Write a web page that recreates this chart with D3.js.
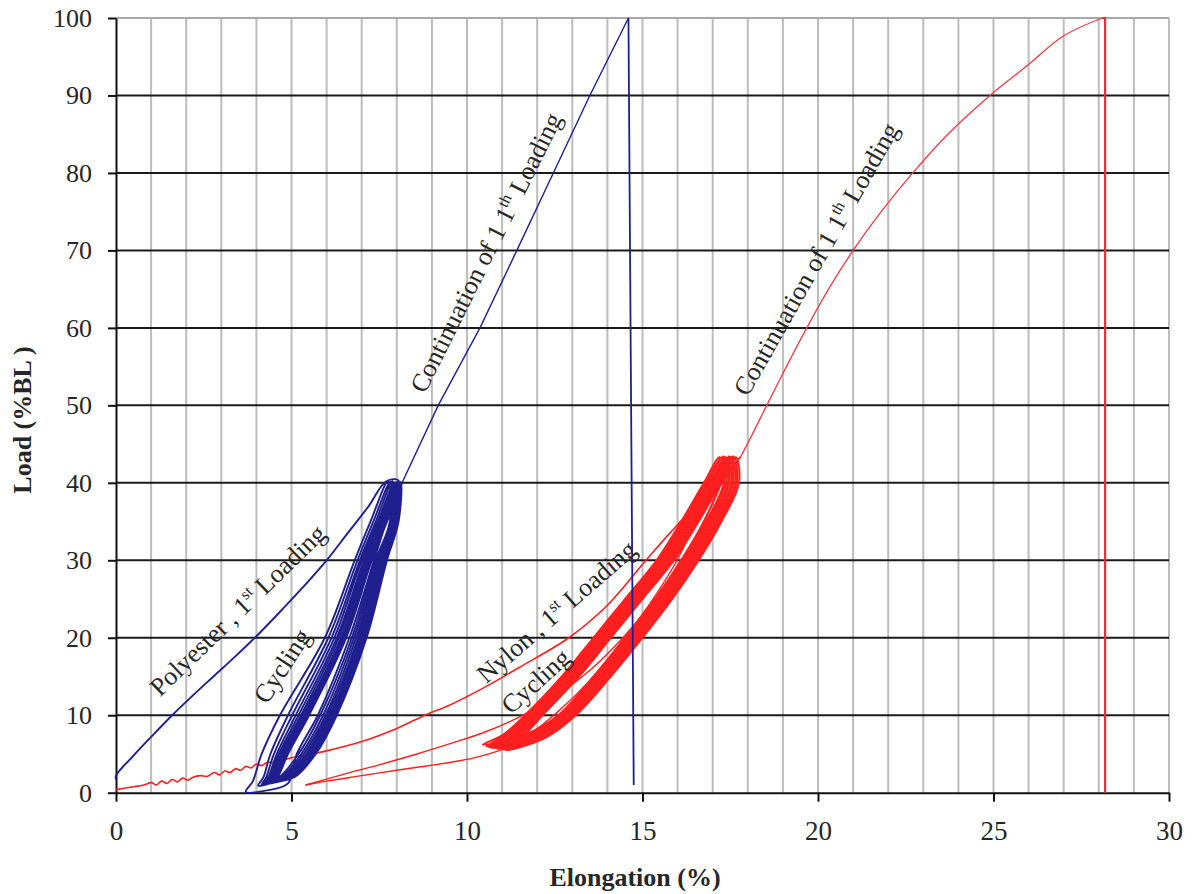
<!DOCTYPE html>
<html>
<head>
<meta charset="utf-8">
<script src="https://cdn.jsdelivr.net/npm/d3@7"></script>
<style>
  html, body { margin: 0; padding: 0; background: #fff; }
  svg { display: block; font-family: "Liberation Serif", "Times New Roman", serif; }
</style>
</head>
<body>
<svg id="chart" width="1197" height="894"></svg>
<script>
// ---- Tick values ----
const xTicks = [0, 5, 10, 15, 20, 25, 30];
const yTicks = [0, 10, 20, 30, 40, 50, 60, 70, 80, 90, 100];

// ---- Polyester: [elongation %, load %BL] ----
const polyesterFirstLoading = [
  [0, 1.7], [0, 2.2], [0.5, 4.8], [1.0, 7.2], [1.6, 10], [2.2, 12.6], [2.8, 15.1],
  [3.4, 17.6], [4.0, 20.2], [4.6, 23], [5.3, 26.4], [6.0, 30], [6.6, 33.5],
  [7.2, 37], [7.7, 40.2], [8.05, 40.3]
];
const polyesterCycles = [
  [[7.7, 35], [7.35, 30], [6.65, 20], [5.75, 10], [5.15, 5], [4.9, 1.2], [4.3, 0.3], [3.7, 0.1],
   [3.9, 1.5], [4.15, 5], [4.67, 10], [5.95, 20], [6.8, 30], [7.25, 35], [7.75, 40.2]],
  [[7.8, 35], [7.4, 30], [6.72, 20], [5.82, 10], [5.2, 5], [4.65, 2], [4.05, 0.9],
   [4.2, 2], [4.4, 5], [4.9, 10], [6.05, 20], [6.88, 30], [7.33, 35], [7.82, 40.1]],
  [[7.83, 35], [7.45, 30], [6.78, 20], [5.9, 10], [5.28, 5], [4.72, 2], [4.15, 1.0],
   [4.28, 2], [4.5, 5], [5.02, 10], [6.14, 20], [6.95, 30], [7.4, 35], [7.88, 40.2]],
  [[7.86, 35], [7.5, 30], [6.84, 20], [5.97, 10], [5.35, 5], [4.78, 2], [4.2, 1.1],
   [4.34, 2], [4.58, 5], [5.12, 10], [6.22, 20], [7.0, 30], [7.46, 35], [7.93, 40]],
  [[7.9, 35], [7.54, 30], [6.9, 20], [6.03, 10], [5.42, 5], [4.84, 2], [4.25, 1.2],
   [4.39, 2], [4.64, 5], [5.2, 10], [6.29, 20], [7.06, 30], [7.5, 35], [7.98, 40.1]],
  [[7.93, 35], [7.58, 30], [6.95, 20], [6.09, 10], [5.48, 5], [4.9, 2], [4.3, 1.2],
   [4.44, 2], [4.7, 5], [5.27, 10], [6.35, 20], [7.11, 30], [7.55, 35], [8.02, 40]],
  [[7.96, 35], [7.62, 30], [7.0, 20], [6.14, 10], [5.54, 5], [4.95, 2], [4.34, 1.3],
   [4.48, 2], [4.76, 5], [5.33, 10], [6.41, 20], [7.16, 30], [7.6, 35], [8.05, 40.2]],
  [[7.99, 35], [7.65, 30], [7.05, 20], [6.19, 10], [5.59, 5], [5.0, 2], [4.38, 1.3],
   [4.52, 2], [4.81, 5], [5.39, 10], [6.46, 20], [7.2, 30], [7.64, 35], [8.08, 40]],
  [[8.02, 35], [7.69, 30], [7.1, 20], [6.24, 10], [5.64, 5], [5.04, 2], [4.41, 1.4],
   [4.55, 2], [4.85, 5], [5.44, 10], [6.51, 20], [7.24, 30], [7.68, 35], [8.11, 40.1]],
  [[8.05, 35], [7.72, 30], [7.14, 20], [6.29, 10], [5.69, 5], [5.08, 2], [4.45, 1.5],
   [4.6, 2], [4.9, 5], [5.5, 10], [6.56, 20], [7.29, 30], [7.72, 35], [8.15, 40]]
];
const polyesterContinuation = [
  [8.15, 40], [9.18, 50], [10.37, 60], [11.42, 70], [12.46, 80], [13.5, 90], [14.6, 100]
];
const polyesterBreak = [[14.6, 100], [14.66, 60], [14.75, 1.0]];

// ---- Nylon: [elongation %, load %BL] ----
const nylonFirstLoading = [
  [0, 0.4], [0.4, 0.7], [0.8, 1.0], [1.0, 1.3], [1.15, 1.0], [1.3, 1.5], [1.45, 1.2],
  [1.6, 1.7], [1.75, 1.4], [1.9, 1.9], [2.05, 1.6], [2.2, 2.0], [2.4, 2.2], [2.6, 2.1],
  [2.8, 2.6], [2.95, 2.3], [3.1, 2.8], [3.25, 2.6], [3.4, 3.1], [3.55, 2.9], [3.7, 3.4],
  [3.85, 3.2], [4.0, 3.7], [4.15, 3.5], [4.3, 3.9], [4.5, 3.9], [5.0, 4.5], [6.0, 5.4],
  [7.0, 6.6], [8.0, 8.3], [8.85, 10.1], [9.5, 11.3], [10.5, 13.6], [11.5, 16.2],
  [12.9, 20], [14.0, 24.2], [15.1, 30], [15.8, 33.6], [16.35, 36.1], [16.55, 36.3]
];
const nylonFirstUnload = [
  [16.55, 36.3], [16.1, 31], [15.3, 25], [14.4, 19.5], [13.5, 14.5], [12.6, 10.5],
  [11.8, 7.6], [11.0, 5.6], [10.2, 4.5], [9.5, 3.9], [8.0, 2.9], [7.0, 2.2], [6.0, 1.5], [5.4, 1.0]
];
const nylonSecondLoading = [
  [5.4, 1.0], [6.5, 2.4], [7.5, 3.6], [8.5, 4.9], [9.5, 6.3], [10.5, 7.8], [11.5, 9.8],
  [12.5, 12.4], [13.5, 15.8], [14.5, 20.3], [15.5, 25.8], [16.3, 31.3], [16.9, 36.5],
  [17.3, 41], [17.5, 43.1]
];
const nylonCycles = [
  [[17.25, 40], [16.75, 35], [16.1, 30], [15.35, 25], [14.5, 20], [13.6, 15], [12.6, 10], [11.7, 7.6], [10.45, 6.2],
   [11.0, 7.4], [11.65, 10], [12.7, 15], [13.6, 20], [14.5, 25], [15.4, 30], [16.1, 35], [16.75, 40], [17.2, 43.3]],
  [[17.31, 40], [16.81, 35], [16.16, 30], [15.41, 25], [14.56, 20], [13.66, 15], [12.66, 10], [11.76, 7.5], [10.55, 6.0],
   [11.06, 7.3], [11.71, 10], [12.76, 15], [13.66, 20], [14.56, 25], [15.46, 30], [16.16, 35], [16.81, 40], [17.26, 43.2]],
  [[17.36, 40], [16.86, 35], [16.21, 30], [15.46, 25], [14.61, 20], [13.71, 15], [12.71, 10], [11.81, 7.4], [10.62, 5.9],
   [11.11, 7.2], [11.76, 10], [12.81, 15], [13.71, 20], [14.61, 25], [15.51, 30], [16.21, 35], [16.86, 40], [17.31, 43.4]],
  [[17.42, 40], [16.92, 35], [16.27, 30], [15.52, 25], [14.67, 20], [13.77, 15], [12.77, 10], [11.87, 7.3], [10.7, 5.8],
   [11.17, 7.1], [11.82, 10], [12.87, 15], [13.77, 20], [14.67, 25], [15.57, 30], [16.27, 35], [16.92, 40], [17.37, 43.3]],
  [[17.47, 40], [16.97, 35], [16.32, 30], [15.57, 25], [14.72, 20], [13.82, 15], [12.82, 10], [11.92, 7.3], [10.76, 5.8],
   [11.22, 7.1], [11.87, 10], [12.92, 15], [13.82, 20], [14.72, 25], [15.62, 30], [16.32, 35], [16.97, 40], [17.42, 43.2]],
  [[17.53, 40], [17.03, 35], [16.38, 30], [15.63, 25], [14.78, 20], [13.88, 15], [12.88, 10], [11.98, 7.2], [10.84, 5.7],
   [11.28, 7.0], [11.93, 10], [12.98, 15], [13.88, 20], [14.78, 25], [15.68, 30], [16.38, 35], [17.03, 40], [17.48, 43.4]],
  [[17.58, 40], [17.08, 35], [16.43, 30], [15.68, 25], [14.83, 20], [13.93, 15], [12.93, 10], [12.03, 7.2], [10.9, 5.7],
   [11.33, 7.0], [11.98, 10], [13.03, 15], [13.93, 20], [14.83, 25], [15.73, 30], [16.43, 35], [17.08, 40], [17.53, 43.3]],
  [[17.64, 40], [17.14, 35], [16.49, 30], [15.74, 25], [14.89, 20], [13.99, 15], [12.99, 10], [12.09, 7.1], [10.97, 5.6],
   [11.39, 6.9], [12.04, 10], [13.09, 15], [13.99, 20], [14.89, 25], [15.79, 30], [16.49, 35], [17.14, 40], [17.59, 43.4]],
  [[17.69, 40], [17.19, 35], [16.54, 30], [15.79, 25], [14.94, 20], [14.04, 15], [13.04, 10], [12.14, 7.1], [11.04, 5.6],
   [11.44, 6.9], [12.09, 10], [13.14, 15], [14.04, 20], [14.94, 25], [15.84, 30], [16.54, 35], [17.19, 40], [17.66, 43.3]],
  [[17.75, 40], [17.25, 35], [16.6, 30], [15.85, 25], [15.0, 20], [14.1, 15], [13.1, 10], [12.2, 7.0], [11.1, 5.5],
   [11.5, 6.8], [12.15, 10], [13.2, 15], [14.1, 20], [15.0, 25], [15.9, 30], [16.6, 35], [17.25, 40], [17.8, 43.4]]
];
const nylonContinuation = [
  [17.8, 43.4], [18.1, 46], [18.54, 50], [19.1, 55], [19.68, 60], [20.3, 65],
  [21.0, 70], [21.8, 75], [22.7, 80], [23.7, 85], [24.9, 90], [26.0, 94], [27.0, 97.7], [28.1, 100]
];
const nylonBreak = [[28.1, 100], [28.18, 100], [28.18, 0]];

// ---- Annotations ----
const annotations = [
  { main: "Polyester , 1", sup: "st", rest: " Loading", at: [1.25, 12.3], angle: -44 },
  { main: "Cycling", sup: "", rest: "", at: [4.3, 11.3], angle: -57 },
  { main: "Continuation of 1 1", sup: "th", rest: " Loading", at: [8.8, 51.4], angle: -63.5 },
  { main: "Nylon , 1", sup: "st", rest: " Loading", at: [10.55, 14.0], angle: -41 },
  { main: "Cycling", sup: "", rest: "", at: [11.25, 10.0], angle: -42 },
  { main: "Continuation of 1 1", sup: "th", rest: " Loading", at: [18.0, 51.0], angle: -60.5 }
];

// ---- Layout ----
const svg = d3.select("#chart");
const x = d3.scaleLinear().domain([0, 30]).range([116, 1169]);
const y = d3.scaleLinear().domain([0, 100]).range([792.7, 18]);

const BLUE = "#1f1f8f";
const RED = "#ff1f1f";
const TEXT = "#262626";

// grid
const grid = svg.append("g");
grid.selectAll("line.v").data(d3.range(1, 31)).join("line")
  .attr("x1", d => x(d)).attr("x2", d => x(d))
  .attr("y1", y(0)).attr("y2", y(100))
  .attr("stroke", "#bcbcbc").attr("stroke-width", 2);
grid.selectAll("line.h").data(yTicks.filter(d => d > 0)).join("line")
  .attr("x1", x(0)).attr("x2", x(30))
  .attr("y1", d => y(d)).attr("y2", d => y(d))
  .attr("stroke", d => d === 100 ? "#a8a8a8" : "#1a1a1a").attr("stroke-width", 2);

// axes
const xAxis = svg.append("g").attr("transform", `translate(0,${y(0)})`)
  .call(d3.axisBottom(x).tickValues(xTicks).tickSize(9).tickPadding(19).tickSizeOuter(0));
const yAxis = svg.append("g").attr("transform", `translate(${x(0)},0)`)
  .call(d3.axisLeft(y).tickValues(yTicks).tickSize(8).tickPadding(16).tickSizeOuter(0));
[xAxis, yAxis].forEach(g => {
  g.select(".domain").attr("stroke", "#111").attr("stroke-width", 2);
  g.selectAll(".tick line").attr("stroke", "#111").attr("stroke-width", 2);
  g.selectAll(".tick text").attr("fill", TEXT)
    .style("font-family", "'Liberation Serif', serif");
});
xAxis.selectAll(".tick text").style("font-size", "27px");
yAxis.selectAll(".tick text").style("font-size", "26px");

// axis titles
svg.append("text").attr("x", 635).attr("y", 886).attr("text-anchor", "middle")
  .attr("fill", TEXT).style("font-size", "26px").style("font-weight", "bold")
  .text("Elongation (%)");
svg.append("text").attr("transform", "translate(31,420) rotate(-90)").attr("text-anchor", "middle")
  .attr("fill", TEXT).style("font-size", "26px").style("font-weight", "bold")
  .text("Load (%BL )");

// curves
const smooth = d3.line().x(d => x(d[0])).y(d => y(d[1])).curve(d3.curveCatmullRom.alpha(0.5));
const straight = d3.line().x(d => x(d[0])).y(d => y(d[1]));
const plot = svg.append("g").attr("fill", "none").attr("stroke-linejoin", "round");

// nylon
plot.append("path").attr("d", smooth(nylonFirstLoading)).attr("stroke", RED).attr("stroke-width", 1.6);
plot.append("path").attr("d", smooth(nylonFirstUnload)).attr("stroke", RED).attr("stroke-width", 1.4);
plot.append("path").attr("d", smooth(nylonSecondLoading)).attr("stroke", RED).attr("stroke-width", 1.4);
plot.append("path")
  .attr("d", smooth([[17.5, 43.1]].concat(nylonCycles.flat())))
  .attr("stroke", RED).attr("stroke-width", 1.9);
plot.append("path").attr("d", smooth(nylonContinuation)).attr("stroke", "#ee3a44").attr("stroke-width", 1.3);
plot.append("path").attr("d", straight(nylonBreak)).attr("stroke", "#d8343f").attr("stroke-width", 2.2);

// polyester
plot.append("path")
  .attr("d", smooth(polyesterFirstLoading.concat(polyesterCycles.flat())))
  .attr("stroke", BLUE).attr("stroke-width", 1.9);
plot.append("path").attr("d", straight(polyesterContinuation)).attr("stroke", BLUE).attr("stroke-width", 1.4);
plot.append("path").attr("d", straight(polyesterBreak)).attr("stroke", BLUE).attr("stroke-width", 1.8);

// annotations
const notes = svg.append("g").attr("fill", TEXT).style("font-size", "26px");
annotations.forEach(a => {
  const t = notes.append("text")
    .attr("transform", `translate(${x(a.at[0])},${y(a.at[1])}) rotate(${a.angle})`);
  t.append("tspan").text(a.main);
  if (a.sup) {
    t.append("tspan").attr("dy", -10).style("font-size", "16px").text(a.sup);
    t.append("tspan").attr("dy", 10).text(a.rest);
  }
});
</script>
</body>
</html>
